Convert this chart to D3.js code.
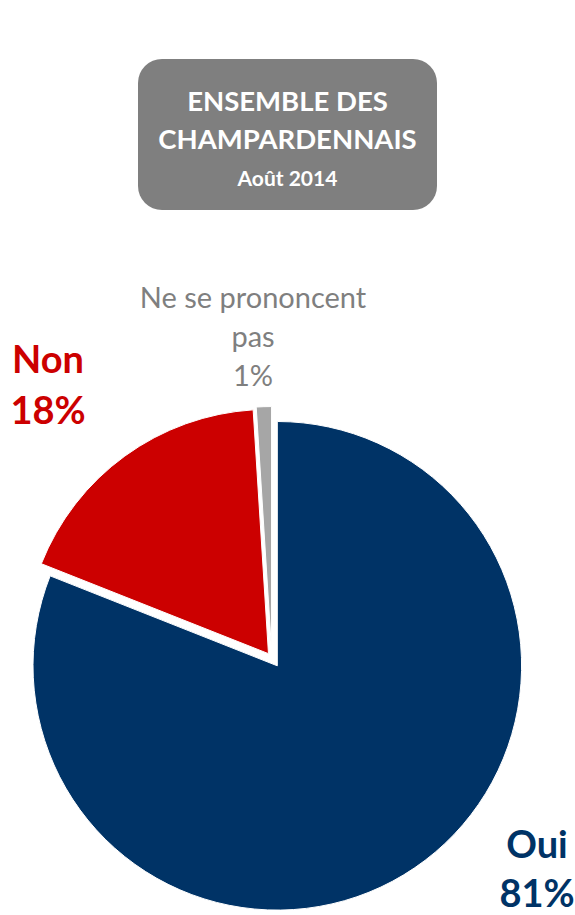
<!DOCTYPE html>
<html>
<head>
<meta charset="utf-8">
<script src="https://cdn.jsdelivr.net/npm/d3@7"></script>
<style>
  html, body { margin: 0; padding: 0; background: #ffffff; }
  svg { display: block; }
</style>
</head>
<body>
<svg id="chart" width="575" height="915"></svg>
<script>
// Survey answers, in drawing order (clockwise from 12 o'clock)
const categories = ["Oui", "Non", "Ne se prononcent pas"];
const values = [81, 18, 1];
const valueLabels = ["81%", "18%", "1%"];

// Title block
const titleLines = ["ENSEMBLE DES", "CHAMPARDENNAIS"];
const subtitle = "Août 2014";

const colors = ["#003366", "#cc0000", "#a6a6a6"];
const labelColors = ["#003366", "#cc0000", "#7f7f7f"];
// slice pull-out: distance in px and direction in degrees (null = along the slice's middle)
const explodeDist = [0, 15, 16];
const explodeDir = [null, null, 339];

const svg = d3.select("#chart");

// ---- title box ----
const box = { x: 138, y: 59, w: 299, h: 151, r: 24 };
svg.append("rect")
  .attr("x", box.x).attr("y", box.y)
  .attr("width", box.w).attr("height", box.h)
  .attr("rx", box.r).attr("ry", box.r)
  .attr("fill", "#7f7f7f");

const cx = box.x + box.w / 2;
svg.selectAll("text.title")
  .data(titleLines)
  .join("text")
  .attr("class", "title")
  .attr("x", cx)
  .attr("y", (d, i) => 111 + i * 38)
  .attr("text-anchor", "middle")
  .attr("font-family", "Lato, 'Open Sans', sans-serif")
  .attr("font-weight", 700)
  .attr("font-size", 27.5)
  .attr("fill", "#ffffff")
  .text(d => d);

svg.append("text")
  .attr("x", cx)
  .attr("y", 186)
  .attr("text-anchor", "middle")
  .attr("font-family", "Lato, 'Open Sans', sans-serif")
  .attr("font-weight", 700)
  .attr("font-size", 21)
  .attr("fill", "#ffffff")
  .text(subtitle);

// ---- pie ----
const center = { x: 277.3, y: 665.8 };
const radius = 244.3;

const pie = d3.pie().sort(null).value(d => d).startAngle(0).endAngle(2 * Math.PI);
const arcs = pie(values);
const arc = d3.arc().innerRadius(0).outerRadius(radius);

const g = svg.append("g").attr("transform", `translate(${center.x},${center.y})`);

g.selectAll("path.slice")
  .data(arcs)
  .join("path")
  .attr("class", "slice")
  .attr("d", arc)
  .attr("fill", (d, i) => colors[i])
  .attr("stroke", "#ffffff")
  .attr("stroke-width", 1)
  .attr("transform", (d, i) => {
    const a = explodeDir[i] === null ? (d.startAngle + d.endAngle) / 2 : explodeDir[i] * Math.PI / 180;
    const dx = Math.sin(a) * explodeDist[i];
    const dy = -Math.cos(a) * explodeDist[i];
    return `translate(${dx},${dy})`;
  });

// ---- labels ----
const labelFont = "Lato, 'Open Sans', sans-serif";
const labelSpecs = [
  { x: 537, y: 858, lines: [categories[0], valueLabels[0]], size: 38, weight: 700, lh: 49 },
  { x: 48, y: 373, lines: [categories[1], valueLabels[1]], size: 38, weight: 700, lh: 51 },
  { x: 253, y: 308, lines: ["Ne se prononcent", "pas", valueLabels[2]], size: 29, weight: 400, lh: 39 }
];

labelSpecs.forEach((s, i) => {
  svg.append("text")
    .attr("text-anchor", "middle")
    .attr("font-family", labelFont)
    .attr("font-weight", s.weight)
    .attr("font-size", s.size)
    .attr("fill", labelColors[i])
    .selectAll("tspan")
    .data(s.lines)
    .join("tspan")
    .attr("x", s.x)
    .attr("y", (d, j) => s.y + j * s.lh)
    .text(d => d);
});
</script>
</body>
</html>
